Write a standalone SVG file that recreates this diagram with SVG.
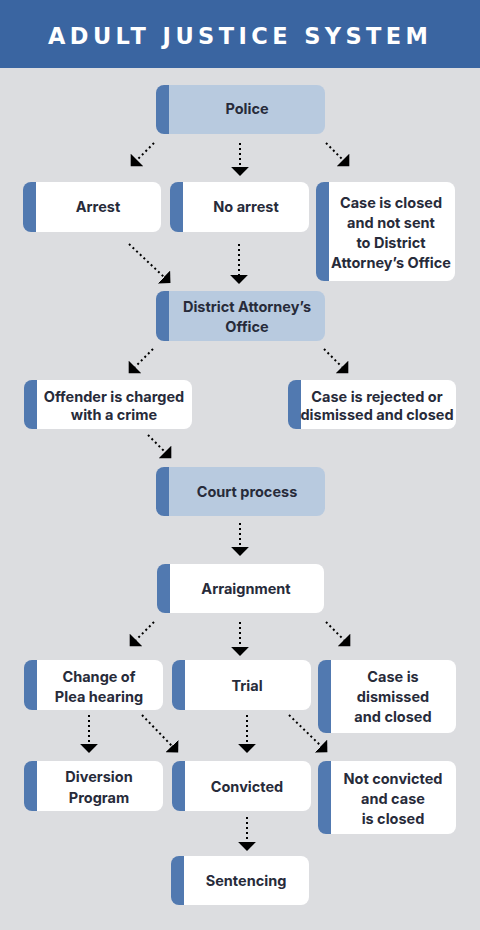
<svg xmlns="http://www.w3.org/2000/svg" width="480" height="930" viewBox="0 0 480 930">
<style>
.t{font-family:Inter,"Liberation Sans",sans-serif;font-weight:700;font-size:14.5px;fill:#272B3A;text-anchor:middle}
.w{fill:#FFFFFF}
.b{fill:#B8CADF}
.bar{fill:#5179B0}
.c{fill:none;stroke:#000;stroke-width:2;stroke-dasharray:2 3;marker-end:url(#ah)}
</style>
<defs>
<marker id="ah" markerUnits="userSpaceOnUse" markerWidth="10" markerHeight="18" viewBox="0 0 9 16" refX="0" refY="8" orient="auto">
<path d="M0,0 L8,8 L0,16 z" fill="#000"/>
</marker>
</defs>
<rect x="0" y="0" width="480" height="930" fill="#DCDDE0"/>
<rect x="0" y="0" width="480" height="68" fill="#3A65A1"/>
<text x="238" y="44" textLength="380" lengthAdjust="spacing" style="font-family:'DejaVu Sans','Liberation Sans',sans-serif;font-weight:700;font-size:22.5px;fill:#FFFFFF;text-anchor:middle">ADULT JUSTICE SYSTEM</text>

<g id="connectors">
<path class="c" d="M154,143 L137,160"/>
<path class="c" d="M240,143 L240,167"/>
<path class="c" d="M326,143 L343,160"/>
<path class="c" d="M129,244 L164,277"/>
<path class="c" d="M239,244 L239,275"/>
<path class="c" d="M153,349 L135,367"/>
<path class="c" d="M324,349 L342,367"/>
<path class="c" d="M148,435 L165,452"/>
<path class="c" d="M240,523 L240,547"/>
<path class="c" d="M154,622 L136,640"/>
<path class="c" d="M240,622 L240,647"/>
<path class="c" d="M326,622 L344,640"/>
<path class="c" d="M89,715 L89,744"/>
<path class="c" d="M142,715 L172,746"/>
<path class="c" d="M247,715 L247,744"/>
<path class="c" d="M289,715 L321,746"/>
<path class="c" d="M247,817 L247,842"/>
</g>

<g id="police">
<rect class="bar" x="156" y="85" width="30" height="49" rx="8"/>
<rect class="b" x="169" y="85" width="156" height="49" rx="8"/>
<rect class="b" x="169" y="85" width="10" height="49"/>
<text class="t" x="247" y="114">Police</text>
</g>

<g id="arrest">
<rect class="bar" x="23" y="182" width="30" height="50" rx="8"/>
<rect class="w" x="36" y="182" width="125" height="50" rx="8"/>
<rect class="w" x="36" y="182" width="10" height="50"/>
<text class="t" x="98" y="212">Arrest</text>
</g>

<g id="no-arrest">
<rect class="bar" x="170" y="182" width="30" height="50" rx="8"/>
<rect class="w" x="183" y="182" width="126" height="50" rx="8"/>
<rect class="w" x="183" y="182" width="10" height="50"/>
<text class="t" x="246" y="212">No arrest</text>
</g>

<g id="case-closed">
<rect class="bar" x="316" y="182" width="30" height="99" rx="8"/>
<rect class="w" x="329" y="182" width="126" height="99" rx="8"/>
<rect class="w" x="329" y="182" width="10" height="99"/>
<text class="t" x="391" y="208">Case is closed</text>
<text class="t" x="391" y="228">and not sent</text>
<text class="t" x="391" y="248">to District</text>
<text class="t" x="391" y="268">Attorney’s Office</text>
</g>

<g id="district-attorney">
<rect class="bar" x="156" y="291" width="30" height="50" rx="8"/>
<rect class="b" x="169" y="291" width="156" height="50" rx="8"/>
<rect class="b" x="169" y="291" width="10" height="50"/>
<text class="t" x="247" y="312">District Attorney’s</text>
<text class="t" x="247" y="332">Office</text>
</g>

<g id="offender-charged">
<rect class="bar" x="24" y="380" width="30" height="49" rx="8"/>
<rect class="w" x="37" y="380" width="155" height="49" rx="8"/>
<rect class="w" x="37" y="380" width="10" height="49"/>
<text class="t" x="114" y="402">Offender is charged</text>
<text class="t" x="114" y="420">with a crime</text>
</g>

<g id="case-rejected">
<rect class="bar" x="288" y="380" width="30" height="49" rx="8"/>
<rect class="w" x="301" y="380" width="155" height="49" rx="8"/>
<rect class="w" x="301" y="380" width="10" height="49"/>
<text class="t" x="377" y="402">Case is rejected or</text>
<text class="t" x="377" y="420">dismissed and closed</text>
</g>

<g id="court-process">
<rect class="bar" x="156" y="467" width="30" height="49" rx="8"/>
<rect class="b" x="169" y="467" width="156" height="49" rx="8"/>
<rect class="b" x="169" y="467" width="10" height="49"/>
<text class="t" x="247" y="497">Court process</text>
</g>

<g id="arraignment">
<rect class="bar" x="157" y="564" width="30" height="49" rx="8"/>
<rect class="w" x="170" y="564" width="154" height="49" rx="8"/>
<rect class="w" x="170" y="564" width="10" height="49"/>
<text class="t" x="246" y="594">Arraignment</text>
</g>

<g id="change-of-plea">
<rect class="bar" x="24" y="660" width="30" height="50" rx="8"/>
<rect class="w" x="37" y="660" width="126" height="50" rx="8"/>
<rect class="w" x="37" y="660" width="10" height="50"/>
<text class="t" x="99" y="682">Change of</text>
<text class="t" x="99" y="702">Plea hearing</text>
</g>

<g id="trial">
<rect class="bar" x="172" y="660" width="30" height="50" rx="8"/>
<rect class="w" x="185" y="660" width="126" height="50" rx="8"/>
<rect class="w" x="185" y="660" width="10" height="50"/>
<text class="t" x="247" y="691">Trial</text>
</g>

<g id="case-dismissed">
<rect class="bar" x="318" y="660" width="30" height="73" rx="8"/>
<rect class="w" x="331" y="660" width="125" height="73" rx="8"/>
<rect class="w" x="331" y="660" width="10" height="73"/>
<text class="t" x="393" y="682">Case is</text>
<text class="t" x="393" y="702">dismissed</text>
<text class="t" x="393" y="722">and closed</text>
</g>

<g id="diversion">
<rect class="bar" x="24" y="761" width="30" height="50" rx="8"/>
<rect class="w" x="37" y="761" width="126" height="50" rx="8"/>
<rect class="w" x="37" y="761" width="10" height="50"/>
<text class="t" x="99" y="782">Diversion</text>
<text class="t" x="99" y="803">Program</text>
</g>

<g id="convicted">
<rect class="bar" x="172" y="761" width="30" height="50" rx="8"/>
<rect class="w" x="185" y="761" width="126" height="50" rx="8"/>
<rect class="w" x="185" y="761" width="10" height="50"/>
<text class="t" x="247" y="792">Convicted</text>
</g>

<g id="not-convicted">
<rect class="bar" x="318" y="761" width="30" height="73" rx="8"/>
<rect class="w" x="331" y="761" width="125" height="73" rx="8"/>
<rect class="w" x="331" y="761" width="10" height="73"/>
<text class="t" x="393" y="784">Not convicted</text>
<text class="t" x="393" y="804">and case</text>
<text class="t" x="393" y="824">is closed</text>
</g>

<g id="sentencing">
<rect class="bar" x="171" y="856" width="30" height="49" rx="8"/>
<rect class="w" x="184" y="856" width="125" height="49" rx="8"/>
<rect class="w" x="184" y="856" width="10" height="49"/>
<text class="t" x="246" y="886">Sentencing</text>
</g>
</svg>
